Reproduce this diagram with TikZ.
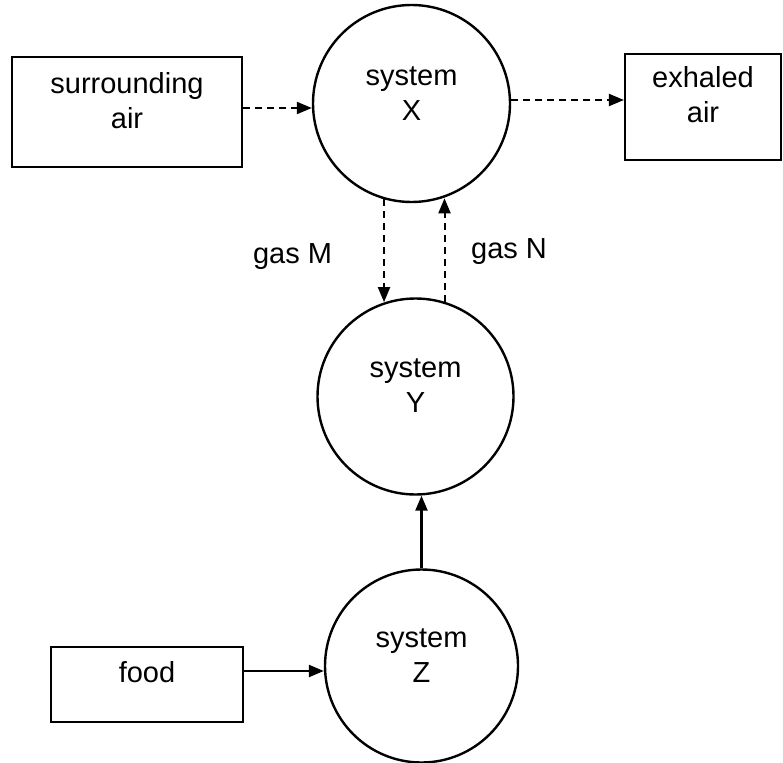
\documentclass[tikz,border=0pt]{standalone}
\usepackage{fontspec}
\setmainfont{Liberation Sans}
\usetikzlibrary{arrows.meta}
\begin{document}
\begin{tikzpicture}[x=1pt,y=-1pt,
  txt/.style={font=\fontsize{29pt}{35pt}\selectfont, align=center, inner sep=0pt},
  sysc/.style={circle, draw, line width=2.4pt, inner sep=0pt, minimum size=#1},
  boxn/.style={rectangle, draw, line width=2.2pt, inner sep=0pt},
  flow/.style={line width=2.4pt, -{Triangle[length=15pt,width=12pt]}},
  dflow/.style={line width=2pt, dash pattern=on 7pt off 5pt, -{Triangle[length=15pt,width=12pt]}}
]
\useasboundingbox (0,0) rectangle (783,762);

% systems
\node[sysc=197pt, label={[name=Xt, txt, yshift=10pt]center:{system\\X}}] (X) at (411.5,103.5) {};
\node[sysc=196pt, label={[name=Yt, txt, yshift=11pt]center:{system\\Y}}] (Y) at (415.5,396.5) {};
\node[sysc=193pt, label={[name=Zt, txt, yshift=10.5pt]center:{system\\Z}}] (Z) at (421.5,666) {};

% boxes
\node[boxn, minimum width=230pt, minimum height=110pt,
      label={[name=sat, txt, yshift=11pt]center:{surrounding\\air}}] (sa) at (127,112) {};
\node[boxn, minimum width=156pt, minimum height=106pt,
      label={[name=ext, txt, yshift=12pt]center:{exhaled\\air}}] (ex) at (703,107) {};
\node[boxn, minimum width=192pt, minimum height=75pt,
      label={[name=fdt, txt, yshift=12pt]center:{food}}] (food) at (147,684.5) {};

% gas labels
\node[txt, anchor=base] (gM) at (292.5,263) {gas M};
\node[txt, anchor=base] (gN) at (509,258) {gas N};

% connectors
\draw[dflow] ([yshift=4pt]sa.east) -- ([yshift=4pt]sa.east -| X.west);
\draw[dflow] ([yshift=3.5pt]X.east) -- ([yshift=3.5pt]X.east -| ex.west);
\draw[dflow] (X.254) -- (X.254 |- Y.108);
\draw[dflow] (Y.73.7) -- (Y.73.7 |- X.288.6);
\draw[flow] (Z.north) -- (Z.north |- Y.south);
\draw[flow] ([yshift=13.5pt]food.east) -- ([yshift=13.5pt]food.east -| Z.west);
\end{tikzpicture}
\end{document}
